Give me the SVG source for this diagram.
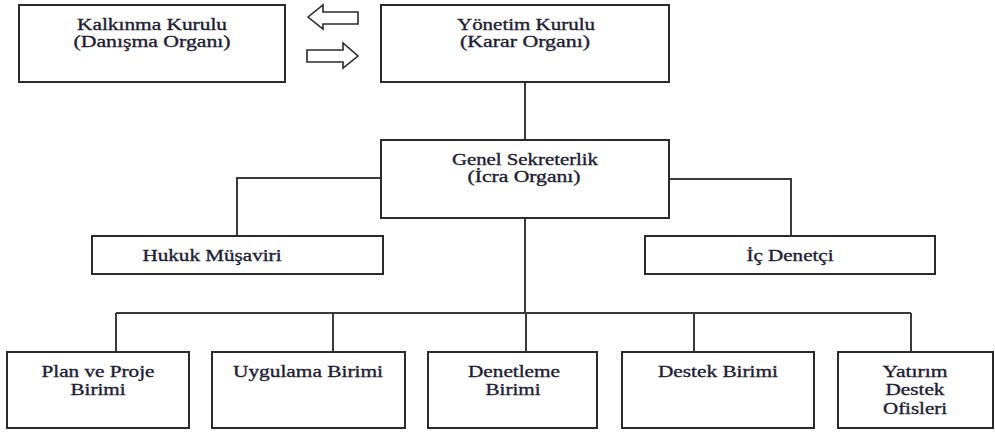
<svg xmlns="http://www.w3.org/2000/svg" width="995" height="432" viewBox="0 0 995 432">
<style>
  .box { fill: #ffffff; stroke: #2a2a2a; stroke-width: 2; }
  .arrow { fill: #ffffff; stroke: #2a2a2a; stroke-width: 1.6; stroke-linejoin: miter; }
  .line { fill: none; stroke: #3a3a3a; stroke-width: 2; }
  text { font-family: "Liberation Serif", "Times New Roman", serif; font-size: 16px; fill: #1e1e34; stroke: #1e1e34; stroke-width: 0.35; text-anchor: middle; }
</style>
<rect width="995" height="432" fill="#ffffff"/>
<g id="connectors">
  <line class="line" x1="525" y1="82" x2="525" y2="140"/>
  <polyline class="line" points="381,178 237,178 237,236"/>
  <polyline class="line" points="669,179 791,179 791,236"/>
  <line class="line" x1="525" y1="218" x2="525" y2="313"/>
  <line class="line" x1="116" y1="313" x2="911" y2="313"/>
  <line class="line" x1="116" y1="313" x2="116" y2="352"/>
  <line class="line" x1="333" y1="313" x2="333" y2="352"/>
  <line class="line" x1="526" y1="313" x2="526" y2="352"/>
  <line class="line" x1="694" y1="313" x2="694" y2="352"/>
  <line class="line" x1="911" y1="313" x2="911" y2="352"/>
  <polygon class="arrow" points="308,17 323,5 323,12 358,12 358,24 323,24 323,29"/>
  <polygon class="arrow" points="307,50 343,50 343,43 358,56 343,68 343,62 307,62"/>
</g>
<g id="kalkinma">
  <rect class="box" x="19" y="5" width="266" height="77"/>
  <text x="152" y="30" textLength="150" lengthAdjust="spacingAndGlyphs">Kalkınma Kurulu</text>
  <text x="152" y="47" textLength="157" lengthAdjust="spacingAndGlyphs">(Danışma Organı)</text>
</g>
<g id="yonetim">
  <rect class="box" x="381" y="5" width="288" height="77"/>
  <text x="526" y="30" textLength="138" lengthAdjust="spacingAndGlyphs">Yönetim Kurulu</text>
  <text x="525" y="47" textLength="130" lengthAdjust="spacingAndGlyphs">(Karar Organı)</text>
</g>
<g id="genel">
  <rect class="box" x="381" y="140" width="288" height="78"/>
  <text x="525" y="165" textLength="146" lengthAdjust="spacingAndGlyphs">Genel Sekreterlik</text>
  <text x="524" y="182" textLength="113" lengthAdjust="spacingAndGlyphs">(İcra Organı)</text>
</g>
<g id="hukuk">
  <rect class="box" x="92" y="236" width="291" height="38"/>
  <text x="212" y="261" textLength="139" lengthAdjust="spacingAndGlyphs">Hukuk Müşaviri</text>
</g>
<g id="icdenetci">
  <rect class="box" x="645" y="236" width="290" height="38"/>
  <text x="790" y="261" textLength="87" lengthAdjust="spacingAndGlyphs">İç Denetçi</text>
</g>
<g id="plan">
  <rect class="box" x="7" y="352" width="182" height="76"/>
  <text x="98" y="377" textLength="113" lengthAdjust="spacingAndGlyphs">Plan ve Proje</text>
  <text x="98" y="395" textLength="55" lengthAdjust="spacingAndGlyphs">Birimi</text>
</g>
<g id="uygulama">
  <rect class="box" x="212" y="352" width="193" height="76"/>
  <text x="308" y="377" textLength="150" lengthAdjust="spacingAndGlyphs">Uygulama Birimi</text>
</g>
<g id="denetleme">
  <rect class="box" x="428" y="352" width="169" height="76"/>
  <text x="514" y="377" textLength="92" lengthAdjust="spacingAndGlyphs">Denetleme</text>
  <text x="513" y="395" textLength="55" lengthAdjust="spacingAndGlyphs">Birimi</text>
</g>
<g id="destek">
  <rect class="box" x="622" y="352" width="192" height="76"/>
  <text x="718" y="377" textLength="120" lengthAdjust="spacingAndGlyphs">Destek Birimi</text>
</g>
<g id="yatirim">
  <rect class="box" x="838" y="352" width="155" height="76"/>
  <text x="915" y="377" textLength="65" lengthAdjust="spacingAndGlyphs">Yatırım</text>
  <text x="915" y="395" textLength="59" lengthAdjust="spacingAndGlyphs">Destek</text>
  <text x="915" y="414" textLength="64" lengthAdjust="spacingAndGlyphs">Ofisleri</text>
</g>
</svg>
